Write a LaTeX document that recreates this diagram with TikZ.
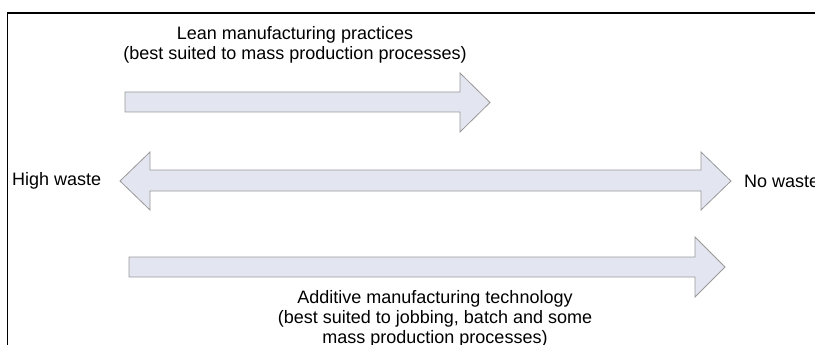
\documentclass[tikz,border=0pt]{standalone}
\usepackage{fontspec}
\setmainfont{Liberation Sans}
\begin{document}
\begin{tikzpicture}[x=1pt,y=-1pt,
  blockarrow/.style={draw=black!40, fill=arrowfill, line width=0.8pt, line join=miter},
  label/.style={inner sep=0pt, align=center, font=\fontsize{18}{20}\selectfont},
  frameline/.style={draw=black, line width=1.6pt}]
\definecolor{arrowfill}{RGB}{227,229,241}
\useasboundingbox (0,0) rectangle (815,345);
\clip (0,0) rectangle (815,345);
% outer frame, running off the right and bottom edges
\draw[frameline] (7.5,360) -- (7.5,13) -- (830,13);

% lean manufacturing arrow
\filldraw[blockarrow] (125,92) -- (460,92) -- (460,73) -- (490,102.5)
  -- (460,132) -- (460,112) -- (125,112) -- cycle;
\node[label] (lean) at (295,45) {Lean manufacturing practices\\(best suited to mass production processes)};

% waste scale, double-headed
\filldraw[blockarrow] (120,181) -- (150,152) -- (150,170) -- (701,170) -- (701,152)
  -- (731,181) -- (701,210) -- (701,191) -- (150,191) -- (150,210) -- cycle;
\node[label, anchor=west] (high) at (12,181) {High waste};
\node[label, anchor=west] (none) at (744,181) {No waste};

% additive manufacturing arrow
\filldraw[blockarrow] (129,257) -- (695,257) -- (695,237) -- (725,267)
  -- (695,297) -- (695,277) -- (129,277) -- cycle;
\node[label, anchor=north] (additive) at (435,290.5) {Additive manufacturing technology\\(best suited to jobbing, batch and some\\mass production processes)};
\end{tikzpicture}
\end{document}
